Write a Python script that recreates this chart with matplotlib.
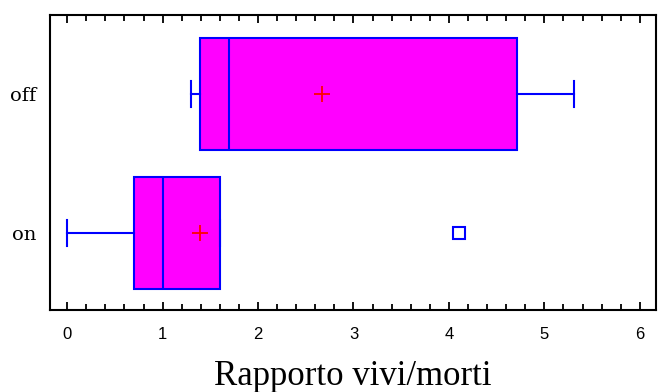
import matplotlib.pyplot as plt
from matplotlib.ticker import MultipleLocator

# gruppi (dal basso verso l'alto)
gruppi = ['on', 'off']
q1 = [0.70, 1.39]
mediana = [1.00, 1.70]
q3 = [1.60, 4.71]
whis_lo = [0.00, 1.30]
whis_hi = [1.60, 5.31]
media = [1.39, 2.67]
outlier = [[4.11], []]

stats = []
for i in range(len(gruppi)):
  stats.append({'label': gruppi[i], 'q1': q1[i], 'med': mediana[i], 'q3': q3[i],
                'whislo': whis_lo[i], 'whishi': whis_hi[i], 'mean': media[i],
                'fliers': outlier[i]})

fig = plt.figure(figsize=(6.58, 3.92), dpi=100)
ax = fig.add_axes([0.076, 0.209, 0.921, 0.753])

blu = '#0000FF'
ax.bxp(stats, positions=[1, 2], widths=0.8, capwidths=0.19,
       orientation='horizontal', patch_artist=True, showmeans=True,
       boxprops=dict(facecolor='#FF00FF', edgecolor=blu, linewidth=1.5),
       medianprops=dict(color=blu, linewidth=1.5),
       whiskerprops=dict(color=blu, linewidth=1.5),
       capprops=dict(color=blu, linewidth=1.5),
       meanprops=dict(marker='+', markeredgecolor='red', markersize=11, markeredgewidth=1.3),
       flierprops=dict(marker='s', markerfacecolor='none', markeredgecolor=blu,
                       markersize=8, markeredgewidth=1.5))

ax.set_xlim(-0.18, 6.17)
ax.set_ylim(0.446, 2.568)
ax.xaxis.set_major_locator(MultipleLocator(1))
ax.xaxis.set_minor_locator(MultipleLocator(0.2))
ax.tick_params(axis='x', which='major', direction='in', top=True, length=6, width=1.3,
               labelsize=12, pad=12)
ax.tick_params(axis='x', which='minor', direction='in', top=True, length=4, width=1.3)
for lab in ax.get_xticklabels():
  lab.set_family('Liberation Sans')
ax.set_yticks([1, 2])
ax.set_yticklabels(gruppi, family='DejaVu Serif', fontsize=14)
ax.tick_params(axis='y', length=0, pad=10)

for s in ax.spines.values():
  s.set_linewidth(1.5)
  s.set_color('black')

ax.set_xlabel('Rapporto vivi/morti', family='Liberation Serif', fontsize=25, labelpad=13)

fig.savefig('out.png', dpi=100)
